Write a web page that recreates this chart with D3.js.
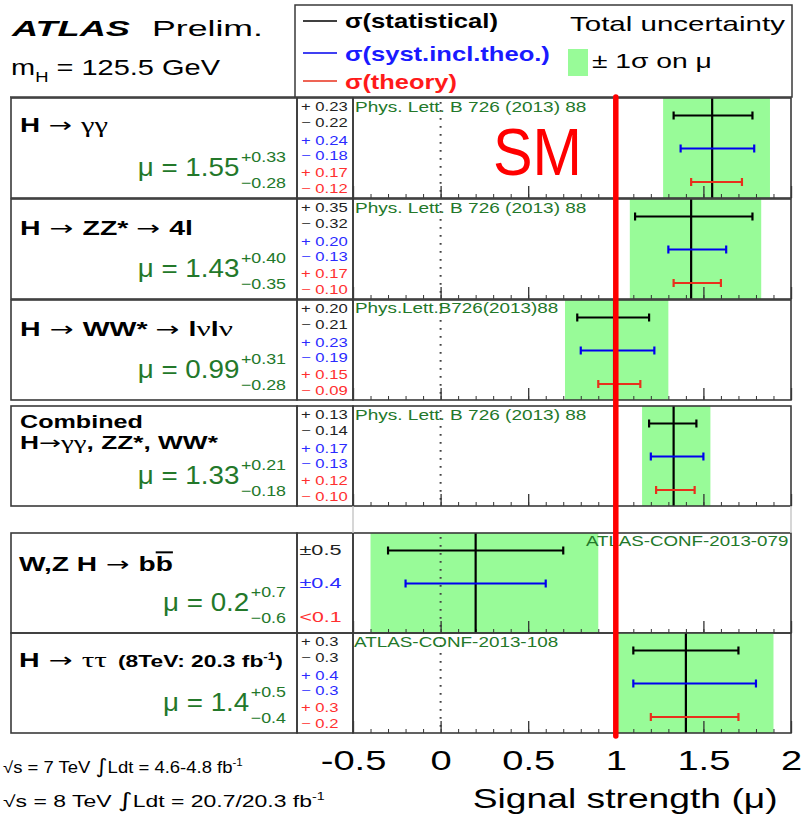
<!DOCTYPE html>
<html>
<head>
<meta charset="utf-8">
<script src="https://cdn.jsdelivr.net/npm/d3@7"></script>
<style>body{margin:0;background:#fff}</style>
</head>
<body>
<script>
// Higgs signal strength summary per decay channel
const muCentral = [1.55, 1.43, 0.99, 1.33, 0.2, 1.4];
const muTotUp   = [0.33, 0.40, 0.31, 0.21, 0.7, 0.5];
const muTotDown = [0.28, 0.35, 0.28, 0.18, 0.6, 0.4];
const statUp    = [0.23, 0.35, 0.20, 0.13, 0.5, 0.3];
const statDown  = [0.22, 0.32, 0.21, 0.14, 0.5, 0.3];
const systUp    = [0.24, 0.20, 0.23, 0.17, 0.4, 0.4];
const systDown  = [0.18, 0.13, 0.19, 0.13, 0.4, 0.3];
const theoUp    = [0.17, 0.17, 0.15, 0.12, null, 0.3];
const theoDown  = [0.12, 0.10, 0.09, 0.10, null, 0.2];
const theoLimit = [null, null, null, null, 0.1, null];
const precision = [2, 2, 2, 2, 1, 1];
const references = [
  "Phys. Lett. B 726 (2013) 88",
  "Phys. Lett. B 726 (2013) 88",
  "Phys.Lett.B726(2013)88",
  "Phys. Lett. B 726 (2013) 88",
  "ATLAS-CONF-2013-079",
  "ATLAS-CONF-2013-108"
];
// channel names: b = bold, o = overline, a = arrow glyph, g = greek glyph
const channelLabels = [
  [[{t: "H", b: 1}, {t: " → ", a: 1}, {t: "γγ", g: 1}]],
  [[{t: "H", b: 1}, {t: " → ", a: 1}, {t: "ZZ* ", b: 1}, {t: "→ ", a: 1}, {t: "4l", b: 1}]],
  [[{t: "H", b: 1}, {t: " → ", a: 1}, {t: "WW* ", b: 1}, {t: "→ ", a: 1}, {t: "l", b: 1}, {t: "ν", g: 1}, {t: "l", b: 1}, {t: "ν", g: 1}]],
  [[{t: "Combined", b: 1}], [{t: "H", b: 1}, {t: "→", a: 1}, {t: "γγ", g: 1}, {t: ", ZZ*, WW*", b: 1}]],
  [[{t: "W,Z H", b: 1}, {t: " → ", a: 1}, {t: "b", b: 1}, {t: "b", b: 1, o: 1}]],
  [[{t: "H", b: 1}, {t: " → ", a: 1}, {t: "ττ", g: 1}], [{t: "(8TeV: 20.3 fb", b: 1}, {t: "-1", b: 1, size: 10, dy: -7}, {t: ")", b: 1, dy: 7}]]
];
const xTicks = [-0.5, 0, 0.5, 1, 1.5, 2];
const xTickLabels = ["-0.5", "0", "0.5", "1", "1.5", "2"];
const smValue = 1;

// ---- layout ----
const FONT = "'Liberation Sans', Arial, Helvetica, sans-serif";
const ARROW_FONT = "'DejaVu Sans', sans-serif";
const GREEK_FONT = "'Liberation Serif', 'Times New Roman', serif";
const GREEN_BAND = "#98fb98";
const GREEN_TEXT = "#23782a";
const BAR_COLORS = ["#000000", "#0000ee", "#e8301c"];
const NUM_COLORS = ["#222222", "#2b2bff", "#ff2f2f"];
const FRAME = "#3a3a3a";
const rowTop = [98, 199, 300, 406, 533, 633];
const rowH = 100;
const X_LABEL = 11, X_ERR = 297, X_PLOT = 353, X_RIGHT = 791;
const labelLayout = [
  [{x: 20, y: 33.7, w: 88, size: 20}],
  [{x: 20, y: 36, w: 173, size: 20}],
  [{x: 20, y: 36, w: 213, size: 20}],
  [{x: 20, y: 22.3, w: 123, size: 18}, {x: 20, y: 43, w: 198, size: 18}],
  [{x: 19, y: 38, w: 154, size: 20}],
  [{x: 19, y: 33.7, w: 88, size: 20}, {x: 118, y: 33.7, w: 165, size: 17}]
];
const refLayout = [
  {x: 355, y: 14.3, w: 231.7, anchor: "start"},
  {x: 355, y: 13.5, w: 231.7, anchor: "start"},
  {x: 355, y: 13.3, w: 203.3, anchor: "start"},
  {x: 355, y: 14, w: 231.7, anchor: "start"},
  {x: 788.3, y: 13, w: 202.6, anchor: "end"},
  {x: 354, y: 14.3, w: 204.3, anchor: "start"}
];
const barRel = [17.5, 50.5, 84];
const numRel = [13, 29, 46.5, 61.5, 79, 94.5];
const numRelSym = [22, 55.3, 88.7];

const svg = d3.select("body").append("svg")
  .attr("width", 805).attr("height", 823)
  .style("display", "block");

const x = d3.scaleLinear().domain([-0.5, 2]).range([X_PLOT, X_RIGHT]);

// Text helper: draws text then stretches it horizontally to a target width
function fitText(parent, o) {
  const t = parent.append("text")
    .attr("font-family", FONT)
    .attr("font-size", o.size)
    .attr("font-weight", o.bold ? "bold" : "normal")
    .attr("font-style", o.italic ? "italic" : "normal")
    .attr("fill", o.fill || "#000")
    .attr("text-anchor", o.anchor || "start");
  const parts = typeof o.parts === "string" ? [{t: o.parts}] : o.parts;
  parts.forEach(p => {
    const s = t.append("tspan").text(p.t);
    if (p.b) s.attr("font-weight", "bold");
    if (p.size) s.attr("font-size", p.size);
    if (p.dy) s.attr("dy", p.dy);
    if (p.o) s.attr("text-decoration", "overline");
    if (p.a) s.attr("font-family", ARROW_FONT);
    if (p.g) s.attr("font-family", GREEK_FONT).attr("font-size", (o.size || 16) * 1.1);
    if (p.f) s.attr("font-family", p.f);
  });
  const natural = t.node().getComputedTextLength();
  const sx = o.w ? o.w / natural : (o.sx || 1);
  t.attr("transform", `translate(${o.x},${o.y}) scale(${sx},1)`);
  return natural * sx;
}

// ---- header: experiment label ----
const head = svg.append("g");
fitText(head, {parts: "ATLAS", x: 12, y: 36, w: 118, size: 22, bold: 1, italic: 1});
fitText(head, {parts: "Prelim.", x: 152, y: 36, w: 111, size: 22});
fitText(head, {parts: [{t: "m"}, {t: "H", size: 14, dy: 7}, {t: " = 125.5 GeV", dy: -7}], x: 11, y: 75, w: 209, size: 22});
head.append("line").attr("x1", 10).attr("x2", 295).attr("y1", 97).attr("y2", 97)
  .attr("stroke", FRAME).attr("stroke-width", 1.5);

// ---- header: legend ----
const leg = svg.append("g");
leg.append("rect").attr("x", 295).attr("y", 5).attr("width", 497).attr("height", 92)
  .attr("fill", "none").attr("stroke", FRAME).attr("stroke-width", 1.5);
const legendEntries = [
  {label: "σ(statistical)", y: 21, ty: 28, w: 153},
  {label: "σ(syst.incl.theo.)", y: 53, ty: 61, w: 205},
  {label: "σ(theory)", y: 81, ty: 89, w: 112}
];
const legendTextColors = ["#000", "#1a1aff", "#ff1a1a"];
legendEntries.forEach((e, k) => {
  leg.append("line").attr("x1", 303).attr("x2", 337).attr("y1", e.y).attr("y2", e.y)
    .attr("stroke", BAR_COLORS[k]).attr("stroke-width", 1.5);
  fitText(leg, {parts: e.label, x: 345, y: e.ty, w: e.w, size: 20, bold: 1, fill: legendTextColors[k]});
});
fitText(leg, {parts: "Total uncertainty", x: 570, y: 31, w: 215, size: 21});
leg.append("rect").attr("x", 568).attr("y", 49).attr("width", 20).attr("height", 27).attr("fill", GREEN_BAND);
fitText(leg, {parts: "± 1σ on μ", x: 592, y: 68, w: 120, size: 20});

// ---- channel rows ----
const minorTicks = d3.range(-5, 21).map(k => k / 10);
const fmt = (v, p) => v.toFixed(p);

muCentral.forEach((mu, i) => {
  const top = rowTop[i], bot = top + rowH;
  const g = svg.append("g");

  // total uncertainty band
  g.append("rect")
    .attr("x", x(mu - muTotDown[i])).attr("y", top)
    .attr("width", x(mu + muTotUp[i]) - x(mu - muTotDown[i])).attr("height", rowH)
    .attr("fill", GREEN_BAND);

  // zero reference (dotted)
  g.append("line").attr("x1", x(0)).attr("x2", x(0)).attr("y1", top + 4).attr("y2", bot)
    .attr("stroke", "#444").attr("stroke-width", 2).attr("stroke-dasharray", "1.8,6.2");

  // ticks along the bottom of each row
  g.append("g").attr("transform", `translate(0,${bot})`).attr("color", "#333")
    .call(d3.axisTop(x).tickValues(minorTicks).tickSize(4).tickFormat(""))
    .call(a => a.select(".domain").remove());
  g.append("g").attr("transform", `translate(0,${bot})`).attr("color", "#333")
    .call(d3.axisTop(x).tickValues(xTicks).tickSize(12).tickFormat(""))
    .call(a => a.selectAll("line").attr("stroke-width", 1.3))
    .call(a => a.select(".domain").remove());

  // central value
  g.append("line").attr("x1", x(mu)).attr("x2", x(mu)).attr("y1", top).attr("y2", bot)
    .attr("stroke", "#000").attr("stroke-width", 2.2);

  // error bars: statistical, systematic, theory
  const comps = [[statDown[i], statUp[i]], [systDown[i], systUp[i]], [theoDown[i], theoUp[i]]];
  comps.forEach((c, k) => {
    if (c[0] == null) return;
    const yb = top + barRel[k];
    const x1 = x(mu - c[0]), x2 = x(mu + c[1]);
    g.append("line").attr("x1", x1).attr("x2", x2).attr("y1", yb).attr("y2", yb)
      .attr("stroke", BAR_COLORS[k]).attr("stroke-width", 2);
    [x1, x2].forEach(xc => g.append("line").attr("x1", xc).attr("x2", xc)
      .attr("y1", yb - 4).attr("y2", yb + 4)
      .attr("stroke", BAR_COLORS[k]).attr("stroke-width", 2.2));
  });

  // frames
  [[X_LABEL, X_ERR], [X_ERR, X_PLOT], [X_PLOT, X_RIGHT]].forEach(([a, b]) =>
    g.append("rect").attr("x", a).attr("y", top).attr("width", b - a).attr("height", rowH)
      .attr("fill", "none").attr("stroke", FRAME).attr("stroke-width", 1.6));

  // publication reference
  const rl = refLayout[i];
  fitText(g, {parts: references[i], x: rl.x, y: top + rl.y, w: rl.w, size: 14, fill: GREEN_TEXT, anchor: rl.anchor});

  // channel name
  channelLabels[i].forEach((line, j) => {
    const L = labelLayout[i][j];
    fitText(g, {parts: line, x: L.x, y: top + L.y, w: L.w, size: L.size});
  });

  // mu = value with total uncertainty
  const p = precision[i];
  const supW = fitText(g, {parts: "+" + fmt(muTotUp[i], p), x: 286, y: top + 64, sx: 1.19, size: 15, fill: GREEN_TEXT, anchor: "end"});
  const subW = fitText(g, {parts: "−" + fmt(muTotDown[i], p), x: 286, y: top + 89.5, sx: 1.19, size: 15, fill: GREEN_TEXT, anchor: "end"});
  fitText(g, {parts: "μ = " + fmt(mu, p), x: 286 - Math.max(supW, subW) - 1.5, y: top + 78, sx: 1.11, size: 25, fill: GREEN_TEXT, anchor: "end"});

  // uncertainty breakdown numbers
  const symmetric = statUp[i] === statDown[i] && systUp[i] === systDown[i];
  if (symmetric) {
    const items = [
      "±" + fmt(statUp[i], p),
      "±" + fmt(systUp[i], p),
      theoLimit[i] != null ? "<" + fmt(theoLimit[i], p) : "±" + fmt(theoUp[i], p)
    ];
    items.forEach((s, k) => fitText(g, {parts: s, x: 299.5, y: top + numRelSym[k], w: 42, size: 14, fill: NUM_COLORS[k]}));
  } else {
    const items = [
      "+ " + fmt(statUp[i], p), "− " + fmt(statDown[i], p),
      "+ " + fmt(systUp[i], p), "− " + fmt(systDown[i], p),
      "+ " + fmt(theoUp[i], p), "− " + fmt(theoDown[i], p)
    ];
    items.forEach((s, k) => fitText(g, {parts: s, x: 301, y: top + numRel[k], sx: 1.33, size: 12.5, fill: NUM_COLORS[Math.floor(k / 2)]}));
  }
});

// side borders of the plot area in the gap between row groups
[X_PLOT, X_RIGHT].forEach(xx => svg.append("line")
  .attr("x1", xx).attr("x2", xx).attr("y1", rowTop[3] + rowH).attr("y2", rowTop[4])
  .attr("stroke", "#c8c8c8").attr("stroke-width", 1.5));

// ---- x axis labels ----
const axisG = svg.append("g").attr("transform", `translate(0,${rowTop[5] + rowH})`)
  .call(d3.axisBottom(x).tickValues(xTicks).tickFormat((d, k) => xTickLabels[k]).tickSize(0));
axisG.select(".domain").remove();
axisG.selectAll("text")
  .attr("font-family", FONT).attr("font-size", 28).attr("fill", "#000")
  .attr("y", 37).attr("dy", 0).attr("transform", "scale(1.36,1)");
fitText(svg, {parts: "Signal strength (μ)", x: 472.7, y: 808, w: 305, size: 27});

// ---- luminosity info ----
const lumiParts = (energy, lumi) => [
  {t: "√"}, {t: "s = " + energy + " TeV "},
  {t: "∫", f: ARROW_FONT, size: 20}, {t: "Ldt = " + lumi + " fb"},
  {t: "-1", size: 10, dy: -7}
];
fitText(svg, {parts: lumiParts(7, "4.6-4.8"), x: 3, y: 773, w: 240, size: 16});
fitText(svg, {parts: lumiParts(8, "20.7/20.3"), x: 3, y: 806.7, w: 322, size: 16});

// ---- Standard Model expectation ----
svg.append("line")
  .attr("x1", x(smValue)).attr("x2", x(smValue)).attr("y1", 97).attr("y2", 736)
  .attr("stroke", "#ff0000").attr("stroke-width", 5.5).attr("stroke-linecap", "round");
fitText(svg, {parts: "SM", x: 493, y: 175, w: 89, size: 66, fill: "#ff0000"});
</script>
</body>
</html>
